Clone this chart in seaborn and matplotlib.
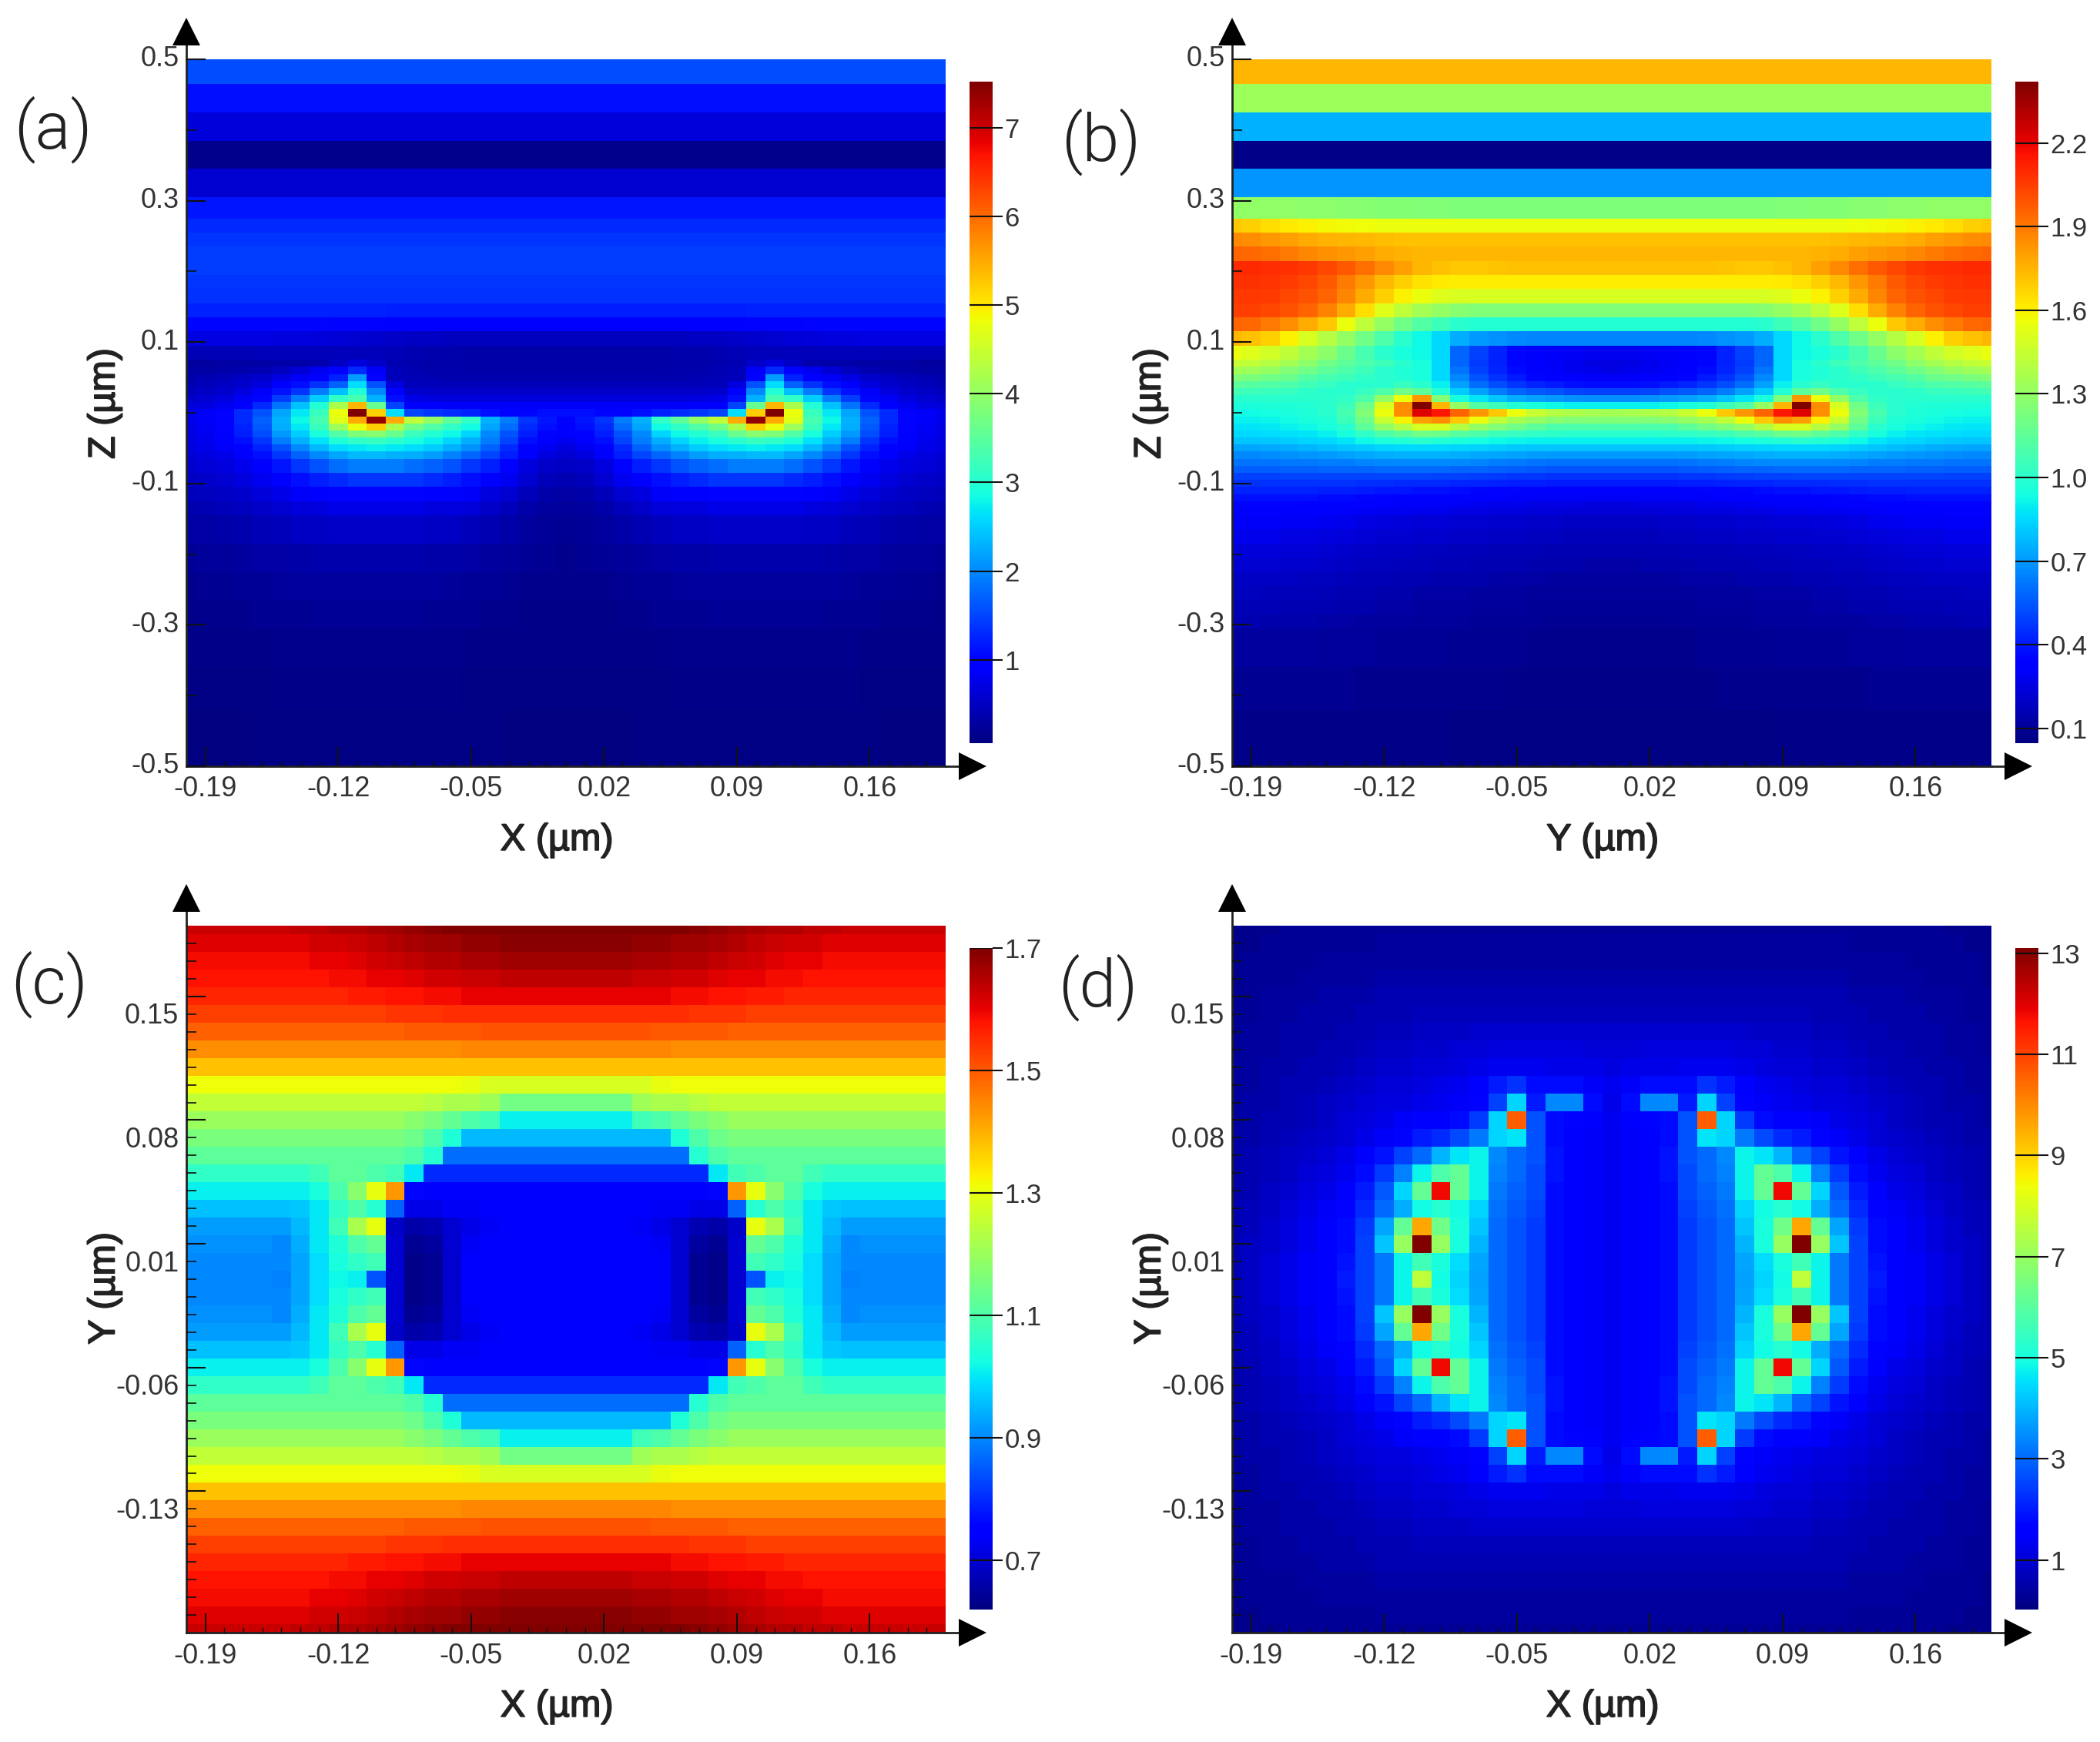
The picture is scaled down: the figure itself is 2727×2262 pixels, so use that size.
import matplotlib
matplotlib.use('Agg')
import matplotlib.pyplot as plt
import matplotlib.patheffects as pe
from matplotlib.transforms import ScaledTranslation
import numpy as np
import seaborn as sns

# field maps are mirror symmetric, so only the left half (a, b) or the
# upper left quadrant (c, d) was read off the picture.
# columns run from -0.20 to 0.00 um in 0.01 steps

# rows of (a) and (b) are not evenly thick: layer thickness in units of 0.005 um
layer_span_a = [7, 8, 8, 8, 8, 6, 4, 4, 4, 4, 4, 4, 4, 4, 4, 4,
                2, 2, 2, 2, 2, 2, 2, 2, 2, 2, 2, 2, 2, 2,
                4, 4, 4, 4, 8, 8, 8, 8, 11, 12, 16]
layer_span_b = [7, 8, 8, 8, 8, 6, 4, 4, 4, 4, 4, 4, 4, 4, 4, 4,
                2, 2, 2, 2, 2, 2, 2, 2, 2, 2, 2, 2, 2, 2,
                2, 2, 2, 2, 2, 2, 2, 2,
                4, 4, 4, 4, 4, 4, 4, 4, 11, 12, 16]

# |E| values x100
field_a = [
    [155] * 21, [110] * 21, [65] * 21, [15] * 21, [60] * 21, [115] * 21,
    [130] * 21, [140] * 21, [145] * 21, [145] * 21, [140] * 21, [135] * 21,
    [125,125,125,125,125,125,125,125,124,124,123,122,122,121,120,120,120,120,120,120,120],
    [105,105,105,105,105,105,104,103,102,101,100,99,98,97,96,96,96,96,96,96,96],
    [72,72,72,71,71,70,68,65,62,60,57,54,52,50,48,48,48,48,48,48,48],
    [42,42,42,42,44,45,45,46,46,46,45,42,40,38,36,35,35,35,35,35,35],
    [28,28,30,30,32,35,35,38,50,70,55,40,38,35,33,33,33,33,33,33,33],
    [30,32,34,36,40,48,62,80,100,130,85,45,40,37,36,35,35,35,35,35,35],
    [35,40,45,50,58,72,82,92,125,215,100,45,42,40,38,38,38,38,38,38,38],
    [40,45,50,58,70,90,110,135,170,260,160,70,46,45,45,45,45,45,45,45,45],
    [45,50,57,68,85,112,140,190,240,300,200,90,56,55,55,55,55,55,55,55,55],
    [55,60,68,82,105,145,190,250,310,330,230,110,75,68,66,65,65,65,65,65,65],
    [65,70,80,98,130,185,240,300,420,540,360,150,95,88,85,85,85,85,85,85,85],
    [75,85,100,130,160,220,270,320,480,752,520,260,150,140,130,125,110,100,105,110,110],
    [75,85,102,130,170,230,280,330,470,550,740,550,440,400,350,310,230,190,140,115,100],
    [73,82,100,125,165,225,270,320,410,480,520,420,370,340,310,285,220,180,130,110,95],
    [72,80,95,120,155,210,250,290,340,380,390,360,320,300,280,255,200,160,120,100,90],
    [70,78,90,110,140,190,230,265,295,310,315,305,290,275,255,225,190,150,110,90,80],
    [68,74,85,100,125,160,200,235,260,270,275,270,260,250,230,205,170,130,100,80,70],
    [63,68,75,88,110,140,170,200,220,235,235,230,225,215,195,175,150,120,90,70,60],
    [58,62,68,78,95,115,140,160,180,190,190,190,180,170,160,140,120,100,70,55,50],
    [52,55,60,68,80,95,110,120,130,140,140,140,140,130,120,110,90,80,60,45,40],
    [45,48,52,58,66,75,85,90,100,100,100,100,100,95,90,85,70,60,45,35,30],
    [38,40,44,48,54,60,65,70,75,75,75,75,75,70,70,65,55,45,35,28,25],
    [30,32,35,38,42,46,50,50,55,55,55,55,55,50,50,45,40,35,28,22,20],
    [22,24,26,28,30,32,35,36,37,38,38,38,36,35,33,30,27,24,21,18,17],
    [17,18,20,21,23,25,27,28,28,29,29,29,28,27,25,23,21,19,17,16,15],
    [14,15,16,17,18,19,20,21,22,22,22,22,21,20,19,18,17,15,14,14,13],
    [12,12,13,13,14,15,15,16,17,17,17,17,16,16,15,14,14,13,12,12,12],
    [10,10,10,11,11,12,12,12,12,12,12,12,12,12,12,11,11,11,10,10,10],
    [8,8,8,8,9,9,10,10,10,10,10,10,10,10,9,9,9,8,8,8,8],
]

field_b = [
    [175] * 21, [133] * 21, [76] * 21, [7] * 21, [69] * 21,
    [129,129,129,129,128,128,127,127,126,126,125,125,124,124,124,124,124,124,124,124,124],
    [170,168,165,162,160,158,157,156,155,155,155,155,155,155,155,155,155,155,155,155,155],
    [186,185,182,180,178,176,175,174,173,172,172,172,172,172,172,172,172,172,172,172,172],
    [195,194,192,190,187,184,182,180,178,176,175,175,175,175,175,175,175,175,175,175,175],
    [210,210,209,208,206,203,198,192,186,180,175,172,170,170,171,172,172,172,172,172,172],
    [208,208,207,205,203,198,190,182,174,168,164,162,161,161,161,161,161,161,161,161,161],
    [206,206,205,203,200,195,187,178,168,160,155,152,150,150,150,150,150,150,150,150,150],
    [204,204,203,200,195,188,178,165,152,142,135,130,127,125,125,125,125,125,125,125,125],
    [195,194,190,185,178,170,155,142,130,120,112,105,100,98,98,98,98,98,98,98,98],
    [175,172,168,160,150,140,130,120,110,100,92,85,75,70,68,66,65,65,65,65,65],
    [155,152,148,142,135,128,118,108,100,95,92,85,58,50,42,36,32,30,29,28,28],
    [145,143,140,135,128,120,115,110,105,100,95,85,58,48,42,36,32,29,27,26,25],
    [135,133,130,125,120,115,110,105,100,97,95,85,62,50,43,37,33,30,28,27,26],
    [125,123,120,118,112,108,105,102,100,98,95,85,66,54,46,40,36,33,31,30,30],
    [115,113,112,110,106,103,100,100,100,103,100,90,72,60,52,47,43,40,38,37,37],
    [107,105,104,103,101,100,100,103,110,120,115,98,82,72,64,58,55,53,51,50,50],
    [100,100,100,100,100,100,102,110,130,155,182,125,95,88,80,75,72,70,68,67,67],
    [96,96,97,97,98,100,105,120,150,185,242,175,130,112,105,98,95,92,90,90,90],
    [93,93,94,95,97,100,108,125,155,185,222,215,195,182,170,155,145,140,138,136,135],
    [90,90,91,93,95,97,105,120,145,160,180,185,170,155,142,135,130,127,125,125,125],
    [88,88,89,90,92,95,100,115,130,140,150,150,140,130,125,120,115,110,110,110,110],
    [85,85,86,87,88,90,95,102,110,115,120,118,113,110,105,103,102,101,100,100,100],
    [80,80,81,82,84,85,88,92,96,98,100,98,96,94,92,91,90,90,90,90,90],
    [73,73,74,75,77,78,80,82,84,85,85,85,84,83,82,81,80,80,80,80,80],
    [66,66,67,68,69,70,72,74,75,76,76,76,75,74,73,72,71,70,70,70,70],
    [62,62,62,63,63,64,64,65,66,66,66,66,66,65,64,63,62,61,61,61,61],
    [56,56,56,57,57,58,58,58,59,59,59,59,58,58,57,56,55,54,54,54,54],
    [50,50,50,51,51,51,51,51,51,51,51,50,50,49,48,47,47,46,46,46,46],
    [46,46,46,46,46,46,46,45,45,44,44,44,43,43,42,41,41,40,40,40,40],
    [42,42,42,42,42,41,41,40,39,39,38,38,37,36,35,35,34,34,33,33,33],
    [38,38,38,38,38,37,37,36,35,34,33,33,32,32,31,30,30,29,29,29,29],
    [35,35,35,35,34,34,33,32,31,30,30,29,29,28,27,27,26,26,26,25,25],
    [33,33,33,32,32,31,30,29,28,28,27,27,26,26,25,25,24,24,23,23,23],
    [30,30,30,29,29,28,27,26,25,24,23,23,22,22,21,21,20,20,19,19,19],
    [27,27,27,26,26,25,24,23,22,22,21,21,20,20,19,19,18,18,17,17,17],
    [24,24,24,23,23,22,21,20,19,19,18,18,17,17,16,16,16,15,15,15,15],
    [22,22,22,21,21,20,19,18,18,17,17,16,16,15,15,15,14,14,14,13,13],
    [19,19,19,19,18,18,17,16,16,15,15,14,14,14,13,13,13,12,12,12,12],
    [18,18,17,17,17,16,15,15,14,14,13,13,13,12,12,12,11,11,11,11,11],
    [16,16,16,15,15,15,14,14,13,13,12,12,12,11,11,11,10,10,10,10,10],
    [15,15,14,14,14,13,13,12,12,12,11,11,11,10,10,10,10,9,9,9,9],
    [12,12,12,12,12,11,11,11,10,10,10,10,9,9,9,9,8,8,8,8,8],
    [9,9,9,9,9,9,9,8,8,8,8,8,8,8,8,7,7,7,7,7,7],
    [7,7,7,7,7,7,7,7,7,7,7,7,6,6,6,6,6,6,6,6,6],
]

field_c = [
    [163,163,163,163,163,163,164,164,165,165,166,167,168,169,170,170,170,170,170,170,170],
    [161,161,161,161,161,161,161,162,162,163,164,165,166,167,167,168,168,169,169,169,169],
    [159,159,159,159,159,159,159,160,160,161,162,163,164,165,165,166,166,167,167,167,167],
    [158,158,158,158,158,158,158,158,159,159,160,160,161,162,162,163,163,164,164,164,164],
    [156,156,156,156,156,156,156,156,156,157,157,158,158,159,159,160,160,160,160,160,160],
    [153,153,153,153,153,153,153,153,153,153,153,154,154,154,155,155,155,155,155,155,155],
    [149,149,149,149,149,149,149,149,149,149,149,149,150,150,150,150,151,151,151,151,151],
    [144,144,144,144,144,144,144,144,144,144,144,144,144,144,144,145,145,145,145,145,145],
    [138,138,138,138,138,138,138,138,138,138,138,138,138,138,138,138,138,138,138,138,138],
    [131,131,131,131,131,131,131,131,131,131,131,131,131,131,131,130,128,128,128,128,128],
    [125,125,125,125,125,125,125,125,125,125,125,125,125,124,122,122,121,115,115,115,115],
    [120,120,120,120,120,120,120,120,120,120,120,120,118,116,113,110,108,101,101,101,101],
    [116,116,116,116,116,116,116,116,116,116,116,116,114,110,104,95,95,95,95,95,95],
    [112,112,112,112,112,112,112,112,112,112,112,112,110,105,87,87,87,87,87,87,87],
    [106,106,106,106,106,106,106,108,112,112,110,108,100,80,80,80,80,80,80,80,80],
    [101,101,101,101,101,101,101,103,110,118,130,143,76,74,75,75,75,75,75,75,75],
    [96,96,96,96,96,96,97,100,106,110,105,86,72,72,73,73,74,74,74,74,74],
    [92,92,92,92,92,92,95,100,108,122,130,69,66,67,70,72,73,74,74,74,74],
    [91,91,91,91,91,90,94,100,104,110,113,70,64,65,70,73,74,74,74,74,74],
    [90,90,90,90,90,90,93,99,103,106,108,70,63,64,70,74,74,74,74,74,74],
    [90,90,90,90,90,89,93,99,102,101,84,70,63,64,70,74,74,74,74,74,74],
]

# |E| values x10
field_d = [
    [2,2,2,3,3,3,3,3,3,3,3,3,3,3,3,3,3,3,3,3,3],
    [2,2,3,3,3,3,3,3,4,4,4,4,4,4,4,4,4,4,4,4,4],
    [2,3,3,3,3,4,4,4,4,4,4,4,4,4,4,4,4,4,4,4,4],
    [2,3,3,3,4,4,4,4,5,5,5,5,5,5,5,5,5,5,5,5,5],
    [3,3,4,4,4,5,5,5,6,6,6,6,6,6,6,6,6,6,6,6,6],
    [3,3,4,4,5,5,5,6,6,6,7,7,7,7,7,7,7,7,7,7,7],
    [3,4,4,5,5,5,6,6,7,7,8,8,8,9,9,9,9,9,9,9,9],
    [3,4,4,5,5,6,6,7,8,8,9,9,10,10,11,11,11,11,11,10,10],
    [4,4,5,5,6,6,7,8,9,9,10,10,11,12,13,13,13,12,12,12,11],
    [4,4,5,6,6,7,8,9,10,10,11,12,13,15,20,23,18,18,18,14,13],
    [4,5,5,6,7,8,9,10,11,11,12,13,14,17,25,44,20,34,34,18,12],
    [4,5,6,6,7,8,10,11,12,14,15,16,18,24,44,106,27,18,17,15,13],
    [5,5,6,7,8,9,10,12,14,17,20,22,26,32,44,46,27,18,16,14,13],
    [5,6,7,8,9,10,12,15,19,25,30,40,46,48,34,30,27,19,15,14,13],
    [5,6,7,8,10,11,13,18,24,33,48,58,62,48,33,30,26,19,15,14,13],
    [5,6,8,9,11,12,15,20,28,44,62,118,62,48,32,29,26,18,15,14,13],
    [6,7,8,10,12,14,17,22,30,39,49,52,49,44,31,28,25,18,16,14,13],
    [6,7,9,11,13,15,18,24,38,62,96,64,50,42,30,27,24,18,16,14,13],
    [6,8,9,11,13,15,18,25,42,70,131,70,50,40,30,27,24,18,16,14,13],
    [6,8,10,12,14,16,19,25,32,48,56,50,45,38,30,27,24,18,16,14,13],
    [6,8,10,12,14,16,20,25,32,48,76,49,44,37,30,27,24,18,16,14,13],
]

x_ticks = ['-0.19', '-0.12', '-0.05', '0.02', '0.09', '0.16']
z_ticks = ['0.5', '0.3', '0.1', '-0.1', '-0.3', '-0.5']
y_ticks = ['0.15', '0.08', '0.01', '-0.06', '-0.13']

cbar_a = [1, 2, 3, 4, 5, 6, 7]
cbar_b = [0.1, 0.4, 0.7, 1.0, 1.3, 1.6, 1.9, 2.2]
cbar_c = [0.7, 0.9, 1.1, 1.3, 1.5, 1.7]
cbar_d = [1, 3, 5, 7, 9, 11, 13]

DPI = 100
W, H = 2727, 2262
TICK_FONT = 'Liberation Sans'


def px_box(x0, y0, x1, y1):
    # pixel box of the reference -> figure fraction
    return [x0 / W, 1 - y1 / H, (x1 - x0) / W, (y1 - y0) / H]


def mirror_lr(rows):
    rows = np.array(rows, dtype=float)
    return np.hstack([rows, rows[:, -2::-1]])


def mirror_ud(rows):
    return np.vstack([rows, rows[-2::-1]])


def draw_panel(data, left, top, vmin, vmax, cticks, cfmt, xlabel, ylabel, tag, tag_xy, layered):
    ax = fig.add_axes(px_box(left, top, left + 986, top + 918))
    cax = fig.add_axes(px_box(left + 1017, top + 29, left + 1047, top + 888))
    sns.heatmap(data, ax=ax, cbar_ax=cax, cmap='jet', vmin=vmin, vmax=vmax,
                xticklabels=False, yticklabels=False)
    sns.despine(ax=ax)
    ax.set_axisbelow(False)

    # nodes sit at cell centres, the frame cuts the outer cells in half
    ax.set_xlim(0.5, 40.5)
    ax.set_xticks(np.arange(1, 37, 7) + 0.5, x_ticks)
    ax.set_xticks(np.arange(1, 40) + 0.5, minor=True)
    if layered:
        ax.set_ylim(200, 0)
        ax.set_yticks(np.arange(0, 201, 40), z_ticks)
        ax.set_yticks(np.arange(20, 200, 40), minor=True)
    else:
        ax.set_ylim(40.5, 0.5)
        ax.set_yticks(np.arange(4, 33, 7) + 0.5, y_ticks)
        ax.set_yticks(np.arange(1, 40) + 0.5, minor=True)
    ax.tick_params(which='major', direction='in', length=18, width=1.5, color='#111111', pad=7,
                   bottom=True, left=True, labelsize=26, labelcolor='#333333')
    ax.tick_params(which='minor', direction='in', length=9, width=1.2, color='#111111',
                   bottom=True, left=True)
    ax.tick_params(axis='x', which='major', pad=9)
    ax.tick_params(axis='x', which='minor', length=5, width=1)
    plt.setp(ax.get_xticklabels() + ax.get_yticklabels(), family=TICK_FONT, rotation=0)
    plt.setp(ax.get_yticklabels(), va='center')
    if not layered:
        # y labels of the lower panels sit a bit below their ticks
        shift = ScaledTranslation(0, -0.26, fig.dpi_scale_trans)
        for lab in ax.get_yticklabels():
            lab.set_transform(lab.get_transform() + shift)

    for side in ['left', 'bottom']:
        ax.spines[side].set_visible(True)
        ax.spines[side].set_linewidth(2)
        ax.spines[side].set_color('#222222')

    # axis arrows
    ax.plot([0, 0], [1, 1.03], color='#222222', lw=2, transform=ax.transAxes, clip_on=False)
    ax.plot([1, 1.03], [0, 0], color='#222222', lw=2, transform=ax.transAxes, clip_on=False)
    ax.plot(0, 1.039, marker='^', ms=26, color='black', mew=0, transform=ax.transAxes, clip_on=False)
    ax.plot(1.036, 0, marker='>', ms=26, color='black', mew=0, transform=ax.transAxes, clip_on=False)

    bolder = [pe.withStroke(linewidth=1.2, foreground='#222222')]
    ax.set_xlabel(xlabel, family=TICK_FONT, fontsize=35, color='#222222', va='center', path_effects=bolder)
    ax.set_ylabel(ylabel, family=TICK_FONT, fontsize=35, color='#222222', va='center', path_effects=bolder)
    ax.xaxis.set_label_coords(0.488, -0.105)
    ax.yaxis.set_label_coords(-0.1075, 0.513 if layered else 0.487)

    cbar = ax.collections[0].colorbar
    cbar.outline.set_visible(False)
    cbar.set_ticks(cticks, labels=[cfmt.format(v) for v in cticks])
    cax.tick_params(direction='out', length=9, width=1.5, color='#111111', pad=2,
                    labelsize=25, labelcolor='#333333')
    plt.setp(cax.get_yticklabels(), family=TICK_FONT)
    cax.hlines(cticks, 0, 1, color='#111111', lw=1.5)

    fig.text(tag_xy[0] / W, 1 - tag_xy[1] / H, tag, family='Roboto', fontsize=62, weight=300,
             color='#222222', ha='center', va='center')


sns.set_style('ticks')
fig = plt.figure(figsize=(W / DPI, H / DPI), dpi=DPI)

map_a = mirror_lr(field_a)[np.repeat(np.arange(len(layer_span_a)), layer_span_a)] / 100
map_b = mirror_lr(field_b)[np.repeat(np.arange(len(layer_span_b)), layer_span_b)] / 100
map_c = mirror_ud(mirror_lr(field_c)) / 100
map_d = mirror_ud(mirror_lr(field_d)) / 10

draw_panel(map_a, 242, 77, 0.06, 7.52, cbar_a, '{:d}', 'X (µm)', 'Z (µm)', '(a)', (69, 168), True)
draw_panel(map_b, 1600, 77, 0.047, 2.42, cbar_b, '{:.1f}', 'Y (µm)', 'Z (µm)', '(b)', (1430, 184), True)
draw_panel(map_c, 242, 1202, 0.62, 1.70, cbar_c, '{:.1f}', 'X (µm)', 'Y (µm)', '(c)', (64, 1278), False)
draw_panel(map_d, 1600, 1202, 0.02, 13.1, cbar_d, '{:d}', 'X (µm)', 'Y (µm)', '(d)', (1426, 1282), False)

plt.savefig('out.png', dpi=DPI)
